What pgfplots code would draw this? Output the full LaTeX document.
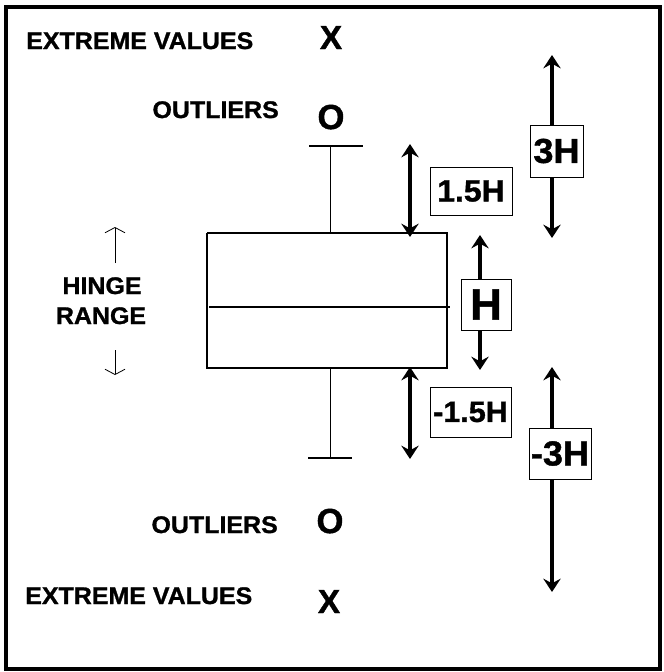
\documentclass[border=0pt]{standalone}
\usepackage{pgfplots}
\pgfplotsset{compat=1.18}
\usetikzlibrary{arrows.meta}
\usepackage{fontspec}
\setmainfont{Liberation Sans}
\newfontfamily\lbl[FakeStretch=1.04, BoldFeatures={FakeBold=1.2}]{Liberation Sans}
\newfontfamily\lblplain[BoldFeatures={FakeBold=1.2}]{Liberation Sans}
\newcommand{\fs}[1]{\fontsize{#1}{#1}\selectfont}
\begin{document}
\begin{tikzpicture}
\begin{axis}[scale only axis, width=498pt, height=504pt,
  xmin=0, xmax=664, ymin=0, ymax=672, y dir=reverse,
  hide axis, clip=false]
\path (rel axis cs:0,0) rectangle (rel axis cs:1,1);
% frame
\draw[line width=3pt] (axis cs:6,7) rectangle (axis cs:660,669);
% box plot
\addplot[black, line width=0.9pt, mark=none] coordinates {(207,233) (447,233) (447,368) (207,368) (207,233)};
\addplot[black, line width=1.2pt, mark=none] coordinates {(209,307) (450,307)};
\addplot[black, line width=0.7pt, mark=none] coordinates {(330,146) (330,233)};
\addplot[black, line width=0.7pt, mark=none] coordinates {(330,368) (330,458)};
\addplot[black, line width=2.2pt, mark=none] coordinates {(309,146) (363,146)};
\addplot[black, line width=2.2pt, mark=none] coordinates {(308,458) (352,458)};
% thick arrows
\pgfplotsset{bigarrow/.style={black, line width=2.4pt, mark=none,
  {Stealth[length=10pt,width=13pt,inset=3.5pt]}-{Stealth[length=10pt,width=13pt,inset=3.5pt]}}}
\addplot[bigarrow] coordinates {(410,144) (410,237)};
\addplot[bigarrow] coordinates {(410,367) (410,459)};
\addplot[bigarrow] coordinates {(552,55) (552,238)};
\addplot[bigarrow] coordinates {(480,235) (480,370)};
\addplot[bigarrow] coordinates {(552,367) (552,592)};
% hinge range thin arrows
\addplot[black, line width=0.6pt, mark=none, -{Straight Barb[length=4pt,width=15pt]}] coordinates {(115,263) (115,227)};
\addplot[black, line width=0.6pt, mark=none, -{Straight Barb[length=4pt,width=15pt]}] coordinates {(115,350) (115,375)};
% label boxes
\node[draw, line width=0.7pt, fill=white, minimum width=61.5pt, minimum height=36pt, inner sep=0pt, font=\lbl\bfseries\fs{23pt}] at (axis cs:471,191) {1.5H};
\node[draw, line width=0.7pt, fill=white, minimum width=39.75pt, minimum height=39pt, inner sep=0pt, font=\lbl\bfseries\fs{26pt}] at (axis cs:556.5,151) {3H};
\node[draw, line width=0.7pt, fill=white, minimum width=37.5pt, minimum height=38.25pt, inner sep=0pt, font=\lblplain\bfseries\fs{33pt}] at (axis cs:486,304.5) {H};
\node[draw, line width=0.7pt, fill=white, minimum width=60.75pt, minimum height=37.5pt, inner sep=0pt, font=\lbl\bfseries\fs{22pt}] at (axis cs:470.5,412) {-1.5H};
\node[draw, line width=0.7pt, fill=white, minimum width=46.5pt, minimum height=38.25pt, inner sep=0pt, font=\lbl\bfseries\fs{26pt}] at (axis cs:560,453.5) {-3H};
% texts
\node[anchor=base west, inner sep=0pt, font=\lbl\bfseries\fs{18pt}] at (axis cs:26,49) {EXTREME VALUES};
\node[anchor=base, inner sep=0pt, font=\lblplain\bfseries\fs{25pt}] at (axis cs:331,49) {X};
\node[anchor=base east, inner sep=0pt, font=\lbl\bfseries\fs{18pt}] at (axis cs:279,118) {OUTLIERS};
\node[anchor=base, inner sep=0pt, font=\lblplain\bfseries\fs{26pt}] at (axis cs:331,129) {O};
\node[anchor=base, inner sep=0pt, font=\lbl\bfseries\fs{18pt}] at (axis cs:102,294) {HINGE};
\node[anchor=base, inner sep=0pt, font=\lbl\bfseries\fs{18pt}] at (axis cs:101,324) {RANGE};
\node[anchor=base east, inner sep=0pt, font=\lbl\bfseries\fs{18pt}] at (axis cs:278,533) {OUTLIERS};
\node[anchor=base, inner sep=0pt, font=\lblplain\bfseries\fs{26pt}] at (axis cs:330,533) {O};
\node[anchor=base west, inner sep=0pt, font=\lbl\bfseries\fs{18pt}] at (axis cs:25,604) {EXTREME VALUES};
\node[anchor=base, inner sep=0pt, font=\lblplain\bfseries\fs{25pt}] at (axis cs:329,613) {X};
\end{axis}
\end{tikzpicture}
\end{document}
